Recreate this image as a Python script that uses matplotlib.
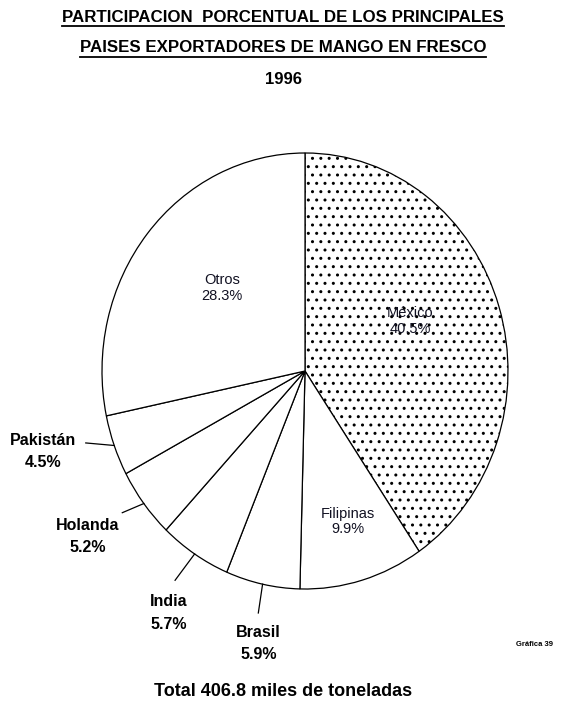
import matplotlib
matplotlib.use("Agg")
import numpy as np
import matplotlib.pyplot as plt
from matplotlib.lines import Line2D

plt.rcParams['font.family'] = ['Liberation Sans', 'DejaVu Sans']
plt.rcParams['hatch.linewidth'] = 1.0

paises = ["México", "Filipinas", "Brasil", "India", "Holanda", "Pakistán", "Otros"]
porcentajes = [40.5, 9.9, 5.9, 5.7, 5.2, 4.5, 28.3]

# labels drawn inside the wedge (data coords)
dentro = {"México": (0.52, 0.23), "Filipinas": (0.21, -0.69), "Otros": (-0.41, 0.38)}
# outside labels: (text position, end of the leader line)
fuera = {
    "Pakistán": ((-1.29, -0.37), (-1.08, -0.33)),
    "Holanda": ((-1.07, -0.76), (-0.90, -0.65)),
    "India": ((-0.67, -1.11), (-0.64, -0.96)),
    "Brasil": ((-0.23, -1.25), (-0.23, -1.11)),
}

W, H = 566, 706
fig = plt.figure(figsize=(W / 100, H / 100), dpi=100)

# pie centre and radii in pixels (slightly taller than wide)
cx, cy, rx, ry = 305, 371, 203, 218
lim = 1.2
ax = fig.add_axes([(cx - lim * rx) / W, (H - cy - lim * ry) / H,
                   2 * lim * rx / W, 2 * lim * ry / H])

wedges, _ = ax.pie(porcentajes, startangle=90, counterclock=False,
                   colors=["white"] * len(paises),
                   wedgeprops=dict(edgecolor="black", linewidth=0.9))
wedges[0].set_hatch("..")
ax.set_aspect("auto")
ax.set_xlim(-lim, lim)
ax.set_ylim(-lim, lim)
ax.axis("off")

for w, nombre, pct in zip(wedges, paises, porcentajes):
    etiqueta = f"{nombre}\n{pct:.1f}%"
    if nombre in dentro:
        x, y = dentro[nombre]
        ax.text(x, y, etiqueta, ha="center", va="center", fontsize=10.5,
                linespacing=1.15, color="#111122")
    else:
        (tx, ty), (lx, ly) = fuera[nombre]
        mid = np.deg2rad((w.theta1 + w.theta2) / 2)
        ax.plot([np.cos(mid), lx], [np.sin(mid), ly], color="black", lw=0.9)
        ax.text(tx, ty, etiqueta, ha="center", va="center", fontsize=11.5,
                fontweight="heavy", linespacing=1.6)

titulo = ["PARTICIPACION  PORCENTUAL DE LOS PRINCIPALES",
          "PAISES EXPORTADORES DE MANGO EN FRESCO"]
textos = []
for i, linea in enumerate(titulo):
    textos.append(fig.text(0.5, 1 - (17 + 31 * i) / H, linea, ha="center",
                           va="center", fontsize=12.2, fontweight="heavy"))
fig.text(0.5, 1 - 79 / H, "1996", ha="center", va="center",
         fontsize=12, fontweight="heavy")

fig.text(0.5, 1 - 691 / H, "Total 406.8 miles de toneladas", ha="center",
         va="center", fontsize=13, fontweight="heavy")
fig.text(535 / W, 1 - 644 / H, "Gráfica 39", ha="center", va="center",
         fontsize=5.5, fontweight="heavy")

# underline the first two title lines
renderer = fig.canvas.get_renderer()
for t in textos:
    bb = t.get_window_extent(renderer)
    y = (bb.y0 - 1) / H
    fig.add_artist(Line2D([bb.x0 / W, bb.x1 / W], [y, y], color="black", lw=1.3))

fig.savefig("out.png", dpi=100)
